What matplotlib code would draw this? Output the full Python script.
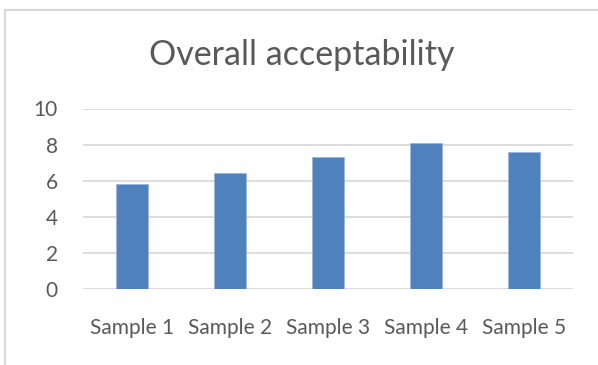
import matplotlib.pyplot as plt
from matplotlib.lines import Line2D

categories = ["Sample 1", "Sample 2", "Sample 3", "Sample 4", "Sample 5"]
scores = [5.8, 6.4, 7.3, 8.1, 7.6]
y_ticks = [0, 2, 4, 6, 8, 10]

W, H = 598, 365
TEXT = "#595959"
GRID = "#d9d9d9"
BAR = "#4f81bd"

plt.rcParams["font.family"] = ["Lato", "DejaVu Sans"]

fig = plt.figure(figsize=(W / 100, H / 100), dpi=100)
fig.patch.set_facecolor("white")

# plot area in pixel coordinates
left, right, top, bottom = 83, 573, 108.5, 289
ax = fig.add_axes([left / W, 1 - bottom / H, (right - left) / W, (bottom - top) / H])

x = range(len(categories))
ax.bar(x, scores, width=0.32, color=BAR, edgecolor="#9bb5dc", linewidth=0.6, zorder=3)

ax.set_xlim(-0.5, len(categories) - 0.5)
ax.set_ylim(0, 10)
ax.set_yticks(y_ticks)
ax.set_xticks(list(x))
ax.set_xticklabels(categories)
ax.yaxis.grid(True, color=GRID, linewidth=1.3, zorder=0)
ax.set_axisbelow(True)
for s in ax.spines.values():
    s.set_visible(False)
ax.tick_params(axis="both", length=0, labelsize=15, colors=TEXT)
ax.tick_params(axis="y", pad=18)
ax.tick_params(axis="x", pad=21)

# title sits centred on the whole chart area, not the plot area
fig.text(301.5 / W, 1 - 55 / H, "Overall acceptability",
         ha="center", va="center", fontsize=24.5, color=TEXT)

# chart frame (left and top edges)
fig.add_artist(Line2D([5 / W, 5 / W], [0, 1 - 10 / H], transform=fig.transFigure,
                      color=GRID, linewidth=1.5))
fig.add_artist(Line2D([5 / W, 1], [1 - 10 / H, 1 - 10 / H], transform=fig.transFigure,
                      color=GRID, linewidth=1.5))

fig.savefig("out.png", dpi=100, facecolor="white")
